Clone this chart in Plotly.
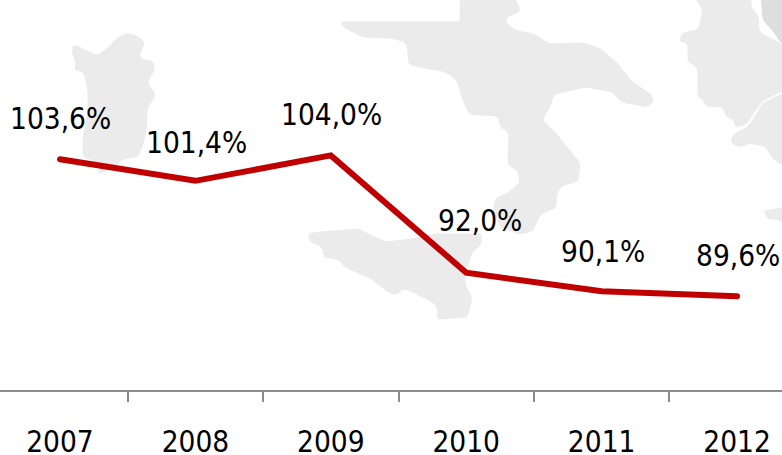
import math
import plotly.graph_objects as go

years = ["2007", "2008", "2009", "2010", "2011", "2012"]
values = [103.6, 101.4, 104.0, 92.0, 90.1, 89.6]
labels = ["103,6%", "101,4%", "104,0%", "92,0%", "90,1%", "89,6%"]

W, H = 782, 455
MB = 65
FONT = "DejaVu Sans Condensed, DejaVu Sans"
FONT_SIZE = 29.5

label_dx = [1, 1, 1, 14, 1, 1]
label_dy = [40, 38, 40, 52, 39, 40]

# Decorative background map outlines, in window pixels
sardinia = [(72,47),(75,44),(97,55),(107,48),(117,37),(128,32),(138,36),(146,42),(140,55),(142,59),(153,60),(156,68),(148,83),(157,95),(148,108),(147,133),(142,150),(137,158),(122,160),(115,168),(98,175),(98,163),(82,157),(82,140),(87,110),(87,90),(83,72),(74,71),(75,60),(71,53)]
italy = [(459,-4),(514,-4),(521,8),(519,13),(508,17),(506,22),(516,30),(534,33),(549,43),(584,42),(601,48),(618,63),(631,80),(653,95),(654,103),(646,108),(638,106),(621,103),(613,93),(586,88),(554,95),(551,107),(543,120),(556,132),(568,147),(581,163),(579,182),(561,187),(557,195),(557,208),(541,215),(533,232),(520,235),(500,228),(492,210),(495,198),(508,192),(519,183),(518,172),(507,165),(508,132),(499,127),(498,117),(469,115),(463,103),(456,80),(444,72),(429,70),(408,65),(406,43),(391,39),(363,38),(343,28),(340,21),(458,21),(459,21),(459,20)]
sicily = [(307,233),(320,231),(358,228),(385,241),(413,238),(433,233),(482,233),(482,245),(473,252),(466,273),(466,285),(473,298),(468,318),(437,320),(436,305),(413,293),(403,289),(397,296),(388,293),(372,280),(345,268),(338,260),(323,258),(322,247),(310,243)]
balkan_a = [(693,-4),(702,10),(698,29),(682,32),(678,42),(687,43),(687,62),(697,68),(697,97),(703,100),(705,107),(723,108),(725,117),(733,120),(735,128),(747,125),(753,115),(762,102),(790,88),(790,47),(760,32),(759,15),(752,8),(752,-4)]
balkan_b = [(737,131),(747,127),(754,117),(762,103),(790,89),(790,170),(773,160),(765,147),(748,144),(742,148),(732,145),(730,138)]
balkan_c = [(763,210),(777,208),(790,206),(790,226),(777,220),(767,220)]
balkan_dark = [(760,-4),(762,20),(773,32),(780,43),(790,48),(790,-4)]


def land(points, color="#ebebeb", cut=4.0):
    """Closed outline with softened corners, converted to paper coordinates."""
    plot_h = H - MB
    p = lambda x, y: f"{x / W:.4f},{1 - y / plot_h:.4f}"

    def toward(a, b):
        d = math.dist(a, b)
        t = min(cut, d / 2) / d
        return (a[0] + (b[0] - a[0]) * t, a[1] + (b[1] - a[1]) * t)

    n = len(points)
    path = ""
    for i in range(n):
        v = points[i]
        start = toward(v, points[i - 1])
        end = toward(v, points[(i + 1) % n])
        path += ("M" if i == 0 else "L") + p(*start) + "Q" + p(*v) + " " + p(*end)
    path += "Z"
    return dict(type="path", xref="paper", yref="paper", path=path,
                fillcolor=color, line=dict(color="#ffffff", width=1), layer="below")


fig = go.Figure(go.Scatter(
    x=years, y=values, mode="lines",
    line=dict(color="#c00000", width=6, shape="linear"),
    hoverinfo="skip", showlegend=False,
))

for i, (y, t, dx, dy) in enumerate(zip(values, labels, label_dx, label_dy)):
    fig.add_annotation(x=i, y=y, text=t, showarrow=False, xshift=dx, yshift=dy,
                       font=dict(family=FONT, size=FONT_SIZE, color="#000000"))

fig.update_layout(
    width=W, height=H,
    margin=dict(l=0, r=0, t=0, b=MB, autoexpand=False),
    paper_bgcolor="#ffffff", plot_bgcolor="rgba(0,0,0,0)",
    showlegend=False,
    shapes=[land(sardinia), land(italy), land(sicily), land(balkan_a),
            land(balkan_b), land(balkan_c), land(balkan_dark, "#dedede")],
    xaxis=dict(type="category", categoryorder="array", categoryarray=years,
               range=[-0.443, 5.332], tickson="boundaries", ticks="outside",
               ticklen=10, tickwidth=1.5, tickcolor="#8c8c8c",
               showline=True, linecolor="#8c8c8c", linewidth=2, automargin=False,
               showgrid=False, zeroline=False, ticklabelstandoff=25,
               tickfont=dict(family=FONT, size=FONT_SIZE, color="#000000")),
    yaxis=dict(range=[80, 119.9], visible=False, showgrid=False, zeroline=False,
               automargin=False),
)

fig.write_html(
    "out.html", config={"displayModeBar": False},
    post_script="document.body.style.margin='0';"
                "document.querySelectorAll('.js-line').forEach(function(e){"
                "e.style.strokeLinecap='round';e.style.strokeLinejoin='miter';});",
)
